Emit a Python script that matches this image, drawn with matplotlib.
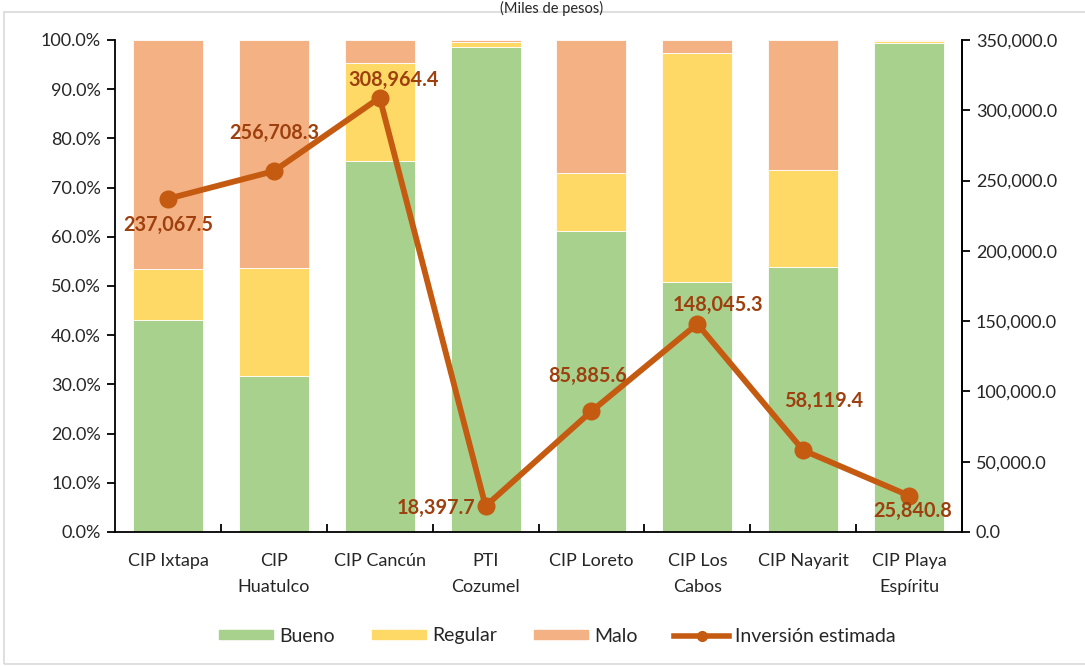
import matplotlib
matplotlib.use("Agg")
import matplotlib.pyplot as plt
from matplotlib.patches import Rectangle, Patch
from matplotlib.lines import Line2D
from matplotlib.ticker import FuncFormatter, MultipleLocator, FixedLocator

plt.rcParams['font.family'] = ['Lato', 'DejaVu Sans']

categorias = ["CIP Ixtapa", "CIP\nHuatulco", "CIP Cancún", "PTI\nCozumel",
              "CIP Loreto", "CIP Los\nCabos", "CIP Nayarit", "CIP Playa\nEspíritu"]
bueno = [43.1, 31.7, 75.4, 98.6, 61.2, 50.8, 53.9, 99.4]
regular = [10.4, 22.0, 19.9, 1.0, 11.8, 46.5, 19.6, 0.3]
malo = [100 - b - r for b, r in zip(bueno, regular)]
inversion = [237067.5, 256708.3, 308964.4, 18397.7, 85885.6, 148045.3, 58119.4, 25840.8]
# label offsets in pixels (dx, dy) relative to each point
offsets = [(0, -26), (0, 38), (14, 18), (-50, -2), (-4, 35), (21, 19), (20, 49), (4, -15)]

C_BUENO = "#A9D18E"
C_REG = "#FFD966"
C_MALO = "#F4B183"
C_LINE = "#C55A11"
C_LBL = "#9E3F0E"
C_TXT = "#262626"

fig = plt.figure(figsize=(10.85, 6.66), dpi=100)
fig.patches.append(Rectangle((4 / 1085, 2 / 666), 1.1, 652 / 666, transform=fig.transFigure,
                             fill=False, edgecolor="#D9D9D9", linewidth=1.2))
fig.text(552 / 1085, 1 - 1 / 666, "(Miles de pesos)", ha="center", va="top",
         fontsize=10.5, color=C_TXT)

ax = fig.add_axes([115 / 1085, 1 - 532 / 666, 847 / 1085, 492 / 666])
x = list(range(len(categorias)))
w = 0.66
ax.bar(x, bueno, w, color=C_BUENO, edgecolor="white", linewidth=0.6, label="Bueno")
ax.bar(x, regular, w, bottom=bueno, color=C_REG, edgecolor="white", linewidth=0.6, label="Regular")
ax.bar(x, malo, w, bottom=[b + r for b, r in zip(bueno, regular)], color=C_MALO,
       edgecolor="white", linewidth=0.6, label="Malo")
ax.set_xlim(-0.5, 7.5)
ax.set_ylim(0, 100)
ax.yaxis.set_major_locator(MultipleLocator(10))
ax.yaxis.set_major_formatter(FuncFormatter(lambda v, p: f"{v:.1f}%"))
ax.set_xticks(x)
ax.set_xticklabels(categorias, linespacing=1.75)
ax.xaxis.set_minor_locator(FixedLocator([i + 0.5 for i in range(7)]))
ax.tick_params(axis="x", which="major", length=0, pad=15, labelsize=13, colors=C_TXT)
ax.tick_params(axis="x", which="minor", direction="in", length=6, width=1.3, color="black")
ax.tick_params(axis="y", direction="out", length=6, width=1.3, labelsize=13,
               labelcolor=C_TXT, pad=4)
for s in ["left", "bottom", "right"]:
    ax.spines[s].set_linewidth(1.3)
ax.spines["top"].set_visible(False)

ax2 = ax.twinx()
ax2.plot(x, inversion, color=C_LINE, linewidth=4.2, marker="o", markersize=12, zorder=5)
ax2.set_ylim(0, 350000)
ax2.yaxis.set_major_locator(MultipleLocator(50000))
ax2.yaxis.set_major_formatter(FuncFormatter(lambda v, p: f"{v:,.1f}"))
ax2.tick_params(axis="y", direction="out", length=6, width=1.3, labelsize=13,
                labelcolor=C_TXT, pad=4)
ax2.spines["right"].set_linewidth(1.3)
ax2.spines["top"].set_visible(False)
for s in ["left", "bottom"]:
    ax2.spines[s].set_visible(False)

for xi, v, (dx, dy) in zip(x, inversion, offsets):
    ax2.annotate(f"{v:,.1f}", (xi, v), xytext=(dx, dy), textcoords="offset pixels",
                 ha="center", va="center", fontsize=14.3, fontweight="bold", color=C_LBL,
                 zorder=6)

handles = [Patch(color=C_BUENO), Patch(color=C_REG), Patch(color=C_MALO),
           Line2D([0], [0], color=C_LINE, linewidth=4, marker="o", markersize=7)]
labels = ["Bueno", "Regular", "Malo", "Inversión estimada"]
fig.legend(handles, labels, loc="center", bbox_to_anchor=(557 / 1085, 1 - 636 / 666), ncol=4,
           frameon=False, fontsize=14, handlelength=2.8, handleheight=0.35,
           handletextpad=0.3, columnspacing=1.9, labelcolor=C_TXT)

fig.savefig("out.png", dpi=100)
